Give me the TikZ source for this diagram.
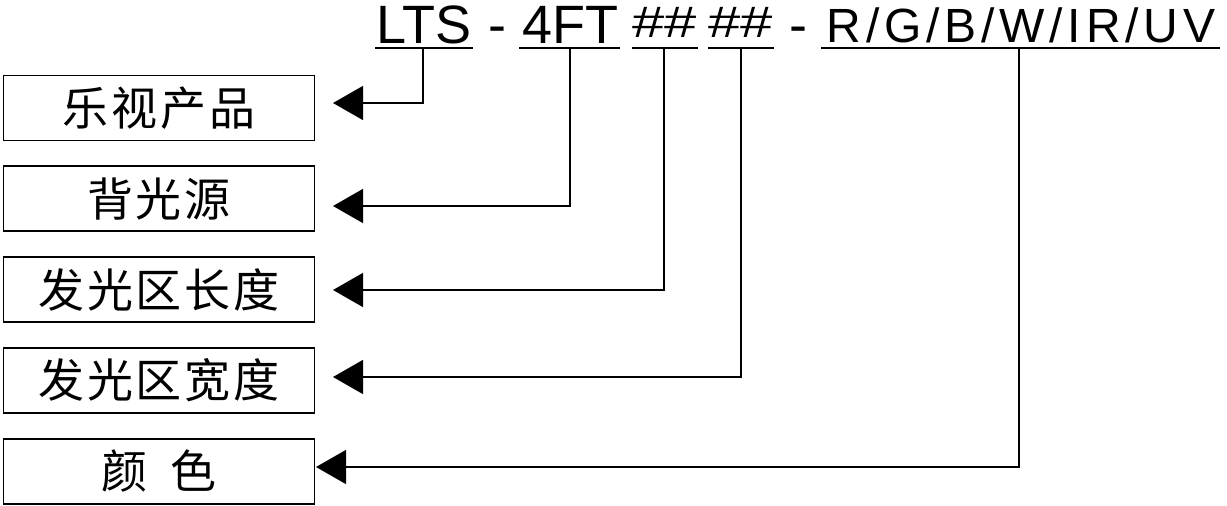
\documentclass[tikz,border=0pt]{standalone}
\usepackage{fontspec}
\setmainfont{Liberation Sans}
\newfontfamily\cjk[LetterSpace=6]{Noto Sans CJK SC}
\newfontfamily\wide[LetterSpace=10]{Liberation Sans}
\usetikzlibrary{arrows.meta,positioning}

\begin{document}
\begin{tikzpicture}[x=1pt,y=-1pt,>={Triangle[length=30pt,width=34pt]},node distance=24pt]
\tikzstyle{field} = [draw, line width=1.8pt, minimum width=311pt, minimum height=65pt, inner sep=0pt, font=\cjk\fontsize{46}{46}\selectfont]
\tikzstyle{code} = [inner sep=0pt, anchor=base, font=\fontsize{54}{54}\selectfont]
\tikzstyle{spaced} = [font=\wide\fontsize{48}{48}\selectfont]
\tikzstyle{hashes} = [font=\fontsize{58}{58}\selectfont]
\tikzstyle{bar} = [line width=1.5pt]
\tikzstyle{lead} = [line width=1.3pt, ->]

\useasboundingbox (0,0) rectangle (1227,506);

% part number
\node[code]         (lts) at (424,43)  {LTS};
\node[code]         (d1)  at (497,43)  {-};
\node[code]         (ft)  at (570,43)  {4FT};
\node[code, hashes] (h1)  at (665,37)  {\scalebox{1}[0.76]{\#\#}};
\node[code, hashes] (h2)  at (741,37)  {\scalebox{1}[0.76]{\#\#}};
\node[code]         (d2)  at (798,43)  {-};
\node[code, spaced] (rgb) at (1021,42) {R/G/B/W/IR/UV};

\draw[bar] (375,48) -- (473,48);
\draw[bar] (519,48) -- (620,48);
\draw[bar] (632,48) -- (698,48);
\draw[bar] (708,48) -- (774,48);
\draw[bar] (821,48) -- (1220,48);

% meaning boxes
\node[field] (b1) at (159,108) {乐视产品};
\node[field, below=of b1] (b2) {背光源};
\node[field, below=of b2] (b3) {发光区长度};
\node[field, below=of b3] (b4) {发光区宽度};
\node[field, below=of b4] (b5) {颜\hspace{0.5em}色};

\coordinate (c1) at (423,48);  \coordinate (t1) at (333,103);
\coordinate (c2) at (570,48);  \coordinate (t2) at (333,206);
\coordinate (c3) at (664,48);  \coordinate (t3) at (333,290);
\coordinate (c4) at (741,48);  \coordinate (t4) at (333,377);
\coordinate (c5) at (1019,48); \coordinate (t5) at (316,467);

\draw[lead] (c1) |- (t1);
\draw[lead] (c2) |- (t2);
\draw[lead] (c3) |- (t3);
\draw[lead] (c4) |- (t4);
\draw[lead] (c5) |- (t5);
\end{tikzpicture}
\end{document}
